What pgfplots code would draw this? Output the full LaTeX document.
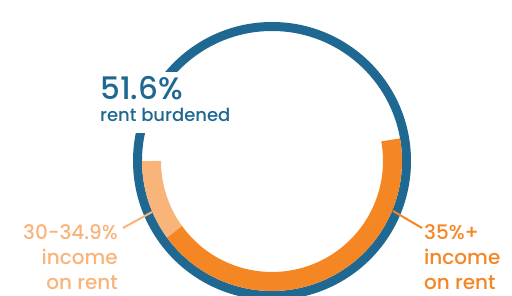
\documentclass[border=0pt]{standalone}
\usepackage{fontspec}
\setmainfont{Poppins Medium}
\usepackage{pgfplots}
\usepackage{pgfplotstable}
\pgfplotsset{compat=1.18}
\definecolor{rbblue}{RGB}{30,104,146}
\definecolor{rborange}{RGB}{244,134,36}
\definecolor{rblight}{RGB}{249,180,122}
% share of households (percent of the full circle)
\pgfplotstableread{
group share
30to34.9 10.0
35plus 42.8
}\rentdata
\pgfplotstablegetelem{0}{share}\of\rentdata
\let\shareA\pgfplotsretval
\pgfplotstablegetelem{1}{share}\of\rentdata
\let\shareB\pgfplotsretval
\pgfmathsetmacro{\angA}{180}
\pgfmathsetmacro{\angB}{180+3.6*\shareA}
\pgfmathsetmacro{\angC}{\angB+3.6*\shareB}
\begin{document}
\begin{tikzpicture}
\begin{axis}[at={(0,0)}, anchor=south west, x=1pt, y=1pt,
  xmin=0, xmax=512, ymin=0, ymax=296, hide axis, clip=true]
% outer ring
\draw[rbblue, line width=9pt] (axis cs:272,135) circle[radius=134.5pt];
% inner arcs
\draw[rblight, line width=19pt] (axis cs:272,135) ++(\angA:120.5pt)
  arc[start angle=\angA, end angle=\angB, radius=120.5pt];
\draw[rborange, line width=19pt] (axis cs:272,135) ++(\angB:120.5pt)
  arc[start angle=\angB, end angle=\angC, radius=120.5pt];
% white box behind the headline
\fill[white] (axis cs:95,163) rectangle (axis cs:240,224);
\node[anchor=base west, text=rbblue, font=\fontsize{31}{31}\selectfont, inner sep=0pt]
  at (axis cs:100,196) {51.6\%};
\node[anchor=base west, text=rbblue, font=\fontsize{18}{18}\selectfont, inner sep=0pt]
  at (axis cs:100,174) {rent burdened};
% leader lines
\draw[rblight, line width=2pt] (axis cs:123,68) -- (axis cs:152,84);
\draw[rborange, line width=2pt] (axis cs:422,68) -- (axis cs:393,85);
% left label
\begin{scope}[every node/.style={anchor=base east, text=rblight, font=\fontsize{20}{20}\selectfont, inner sep=0pt}]
\node at (axis cs:118,56) {30-34.9\%};
\node at (axis cs:118,31) {income};
\node at (axis cs:118,6) {on rent};
\end{scope}
% right label
\begin{scope}[every node/.style={anchor=base west, text=rborange, font=\fontsize{20}{20}\selectfont, inner sep=0pt}]
\node at (axis cs:424,56) {35\%+};
\node at (axis cs:424,31) {income};
\node at (axis cs:424,6) {on rent};
\end{scope}
\end{axis}
\pgfresetboundingbox
\path (0,0) rectangle (512pt,296pt);
\end{tikzpicture}
\end{document}
